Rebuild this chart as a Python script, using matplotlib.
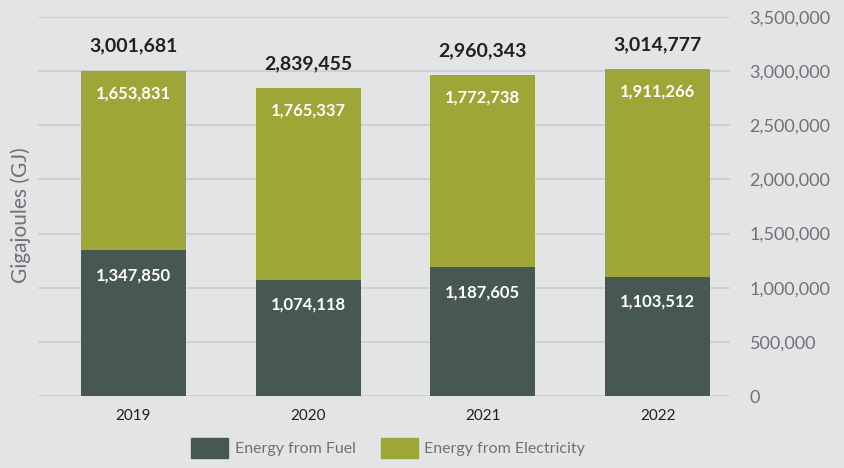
import matplotlib.pyplot as plt
import matplotlib.patches as mpatches
import numpy as np

# === Datos ===
years = ['2019', '2020', '2021', '2022']
fuel = [1347850, 1074118, 1187605, 1103512]
electricity = [1653831, 1765337, 1772738, 1911266]
totals = [3001681, 2839455, 2960343, 3014777]

# === Estilo ===
BG = '#e3e4e6'
C_FUEL = '#475853'
C_ELEC = '#9da637'
GRID = '#cbcccf'
TXT_GRAY = '#707174'
TXT_DARK = '#231f20'

plt.rcParams['font.family'] = ['Lato', 'DejaVu Sans']

fig = plt.figure(figsize=(8.44, 4.68), dpi=100, facecolor=BG)
ax = fig.add_axes([0.045, 0.1538, 0.82, 0.81], facecolor=BG)

x = np.arange(len(years))
w = 0.60
ax.bar(x, fuel, w, color=C_FUEL, zorder=3)
ax.bar(x, electricity, w, bottom=fuel, color=C_ELEC, zorder=3)

# --- etiquetas de valores ---
for i in range(len(years)):
    ax.annotate(f'{fuel[i]:,}', (x[i], fuel[i]), xytext=(0, -18), textcoords='offset points',
                ha='center', va='center', color='white', fontsize=12, fontweight='bold')
    ax.annotate(f'{electricity[i]:,}', (x[i], totals[i]), xytext=(0, -16), textcoords='offset points',
                ha='center', va='center', color='white', fontsize=12, fontweight='bold')
    ax.annotate(f'{totals[i]:,}', (x[i], totals[i]), xytext=(0, 18), textcoords='offset points',
                ha='center', va='center', color=TXT_DARK, fontsize=14, fontweight='bold')

# --- ejes ---
ax.set_xlim(-0.547, 3.415)
ax.set_ylim(0, 3500000)
ax.set_yticks(np.arange(0, 3500001, 500000))
ax.yaxis.tick_right()
ax.set_yticklabels([f'{int(v):,}' for v in ax.get_yticks()], color=TXT_GRAY, fontsize=13)
ax.tick_params(axis='y', length=0, pad=14)
ax.set_xticks(x)
ax.set_xticklabels(years, color=TXT_DARK, fontsize=11)
ax.tick_params(axis='x', length=0, pad=9)
ax.grid(axis='y', color=GRID, lw=1.2, zorder=0)
for s in ax.spines.values():
    s.set_visible(False)

fig.text(0.024, 0.54, 'Gigajoules (GJ)', rotation=90, ha='center', va='center',
         color=TXT_GRAY, fontsize=15)

# --- leyenda ---
handles = [mpatches.Patch(color=C_FUEL, label='Energy from Fuel'),
           mpatches.Patch(color=C_ELEC, label='Energy from Electricity')]
fig.legend(handles=handles, loc='lower center', bbox_to_anchor=(0.46, -0.01), ncol=2,
           frameon=False, fontsize=11.5, labelcolor=TXT_GRAY, handlelength=2.3,
           handleheight=1.6, handletextpad=0.4, columnspacing=1.6)

plt.savefig('out.png', dpi=100, facecolor=BG)
